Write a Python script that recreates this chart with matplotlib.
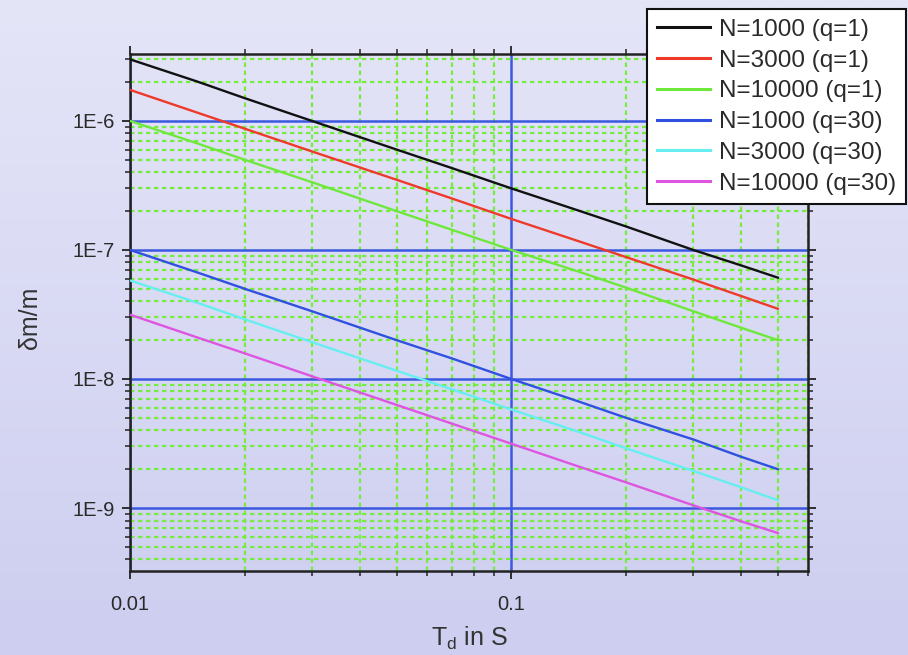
import numpy as np
import matplotlib
matplotlib.use("Agg")
import matplotlib.pyplot as plt
from matplotlib.ticker import FixedLocator, FixedFormatter, LogLocator, NullFormatter

plt.rcParams['font.family'] = ['Liberation Sans', 'DejaVu Sans']
plt.rcParams['mathtext.fontset'] = 'custom'
plt.rcParams['mathtext.rm'] = 'Liberation Sans'
plt.rcParams['mathtext.it'] = 'Liberation Sans:italic'

# ---- data ----
T = [0.01, 0.015, 0.02, 0.03, 0.05, 0.07, 0.1, 0.15, 0.2, 0.3, 0.4, 0.5]
n1000_q1 = [3.0e-6, 2.02e-6, 1.5e-6, 1.0e-6, 6.0e-7, 4.3e-7, 3.0e-7, 2.02e-7, 1.52e-7, 1.0e-7, 7.6e-8, 6.1e-8]
n3000_q1 = [1.74e-6, 1.16e-6, 8.7e-7, 5.8e-7, 3.5e-7, 2.5e-7, 1.74e-7, 1.17e-7, 8.8e-8, 5.9e-8, 4.4e-8, 3.5e-8]
n10000_q1 = [1.0e-6, 6.7e-7, 5.0e-7, 3.35e-7, 2.0e-7, 1.43e-7, 1.0e-7, 6.8e-8, 5.1e-8, 3.35e-8, 2.5e-8, 2.0e-8]
n1000_q30 = [1.0e-7, 6.7e-8, 5.0e-8, 3.35e-8, 2.0e-8, 1.44e-8, 1.0e-8, 6.7e-9, 5.0e-9, 3.4e-9, 2.5e-9, 2.0e-9]
n3000_q30 = [5.8e-8, 3.9e-8, 2.9e-8, 1.93e-8, 1.16e-8, 8.3e-9, 5.8e-9, 3.9e-9, 2.9e-9, 1.94e-9, 1.45e-9, 1.15e-9]
n10000_q30 = [3.15e-8, 2.1e-8, 1.58e-8, 1.05e-8, 6.3e-9, 4.5e-9, 3.15e-9, 2.1e-9, 1.58e-9, 1.05e-9, 7.9e-10, 6.4e-10]

series = [n1000_q1, n3000_q1, n10000_q1, n1000_q30, n3000_q30, n10000_q30]
labels = ["N=1000 (q=1)", "N=3000 (q=1)", "N=10000 (q=1)",
          "N=1000 (q=30)", "N=3000 (q=30)", "N=10000 (q=30)"]
colors = ["#111111", "#ee3a2a", "#6ee83a", "#3050e0", "#66eef0", "#dd55e0"]

xticks = [0.01, 0.1]
xticklabels = ["0.01", "0.1"]
yticks = [1e-9, 1e-8, 1e-7, 1e-6]
yticklabels = ["1E-9", "1E-8", "1E-7", "1E-6"]

# ---- figure ----
fig = plt.figure(figsize=(9.08, 6.55), dpi=100)

# gradient background
bg = fig.add_axes([0, 0, 1, 1], zorder=-10)
grad = np.linspace(0, 1, 256).reshape(-1, 1)
top = np.array([229, 229, 248]) / 255.0
bot = np.array([205, 206, 240]) / 255.0
img = top[None, None, :] * (1 - grad[:, :, None]) + bot[None, None, :] * grad[:, :, None]
bg.imshow(img, aspect='auto', extent=[0, 1, 0, 1])
bg.set_axis_off()

ax = fig.add_axes([130/908, 1 - 571/655, 678/908, 517/655])
ax.patch.set_alpha(0)

for y, lab, c in zip(series, labels, colors):
    ax.plot(T, y, color=c, lw=1.7, label=lab, zorder=3)

ax.set_xscale('log')
ax.set_yscale('log')
ax.set_xlim(0.01, 0.6)
ax.set_ylim(3.25e-10, 3.3e-6)

ax.xaxis.set_major_locator(FixedLocator(xticks))
ax.xaxis.set_major_formatter(FixedFormatter(xticklabels))
ax.xaxis.set_minor_locator(LogLocator(base=10, subs=np.arange(2, 10), numticks=20))
ax.xaxis.set_minor_formatter(NullFormatter())
ax.yaxis.set_major_locator(FixedLocator(yticks))
ax.yaxis.set_major_formatter(FixedFormatter(yticklabels))
ax.yaxis.set_minor_locator(LogLocator(base=10, subs=np.arange(2, 10), numticks=20))
ax.yaxis.set_minor_formatter(NullFormatter())

ax.grid(True, which='minor', color='#76ec40', lw=1.6, ls=(0, (2.0, 1.6)), zorder=1)
ax.grid(True, which='major', color='#3a58e0', lw=1.8, ls='-', zorder=2)
ax.set_axisbelow(True)

for s in ax.spines.values():
    s.set_linewidth(1.8)
    s.set_color('#222222')

ax.tick_params(which='both', direction='out', top=True, right=True, colors='#222222', labelcolor='#2a2a2a')
ax.tick_params(which='major', length=6, width=1.3, labelsize=14.5)
ax.tick_params(which='minor', length=3.5, width=1.1)
ax.tick_params(axis='x', which='major', pad=11)
ax.tick_params(axis='y', which='major', pad=5)

ax.set_xlabel(r"T$_\mathrm{d}$ in S", fontsize=18, color='#333333')
ax.xaxis.set_label_coords(0.5, -0.105)
ax.set_ylabel("δm/m", fontsize=18, color='#333333', va='center')
ax.yaxis.set_label_coords(-0.147, 0.49)

leg = fig.legend(loc='upper left', bbox_to_anchor=(647/908, 1 - 9/655),
                 bbox_transform=fig.transFigure, borderaxespad=0,
                 fontsize=17.5, frameon=True, fancybox=False, framealpha=1,
                 handlelength=2.2, handletextpad=0.35, labelspacing=0.36,
                 borderpad=0.4)
leg.get_frame().set_edgecolor('#111111')
leg.get_frame().set_linewidth(1.5)
for t in leg.get_texts():
    t.set_color('#2a2a2a')
for h in leg.get_lines():
    h.set_linewidth(2.2)

fig.savefig("out.png", dpi=100)
